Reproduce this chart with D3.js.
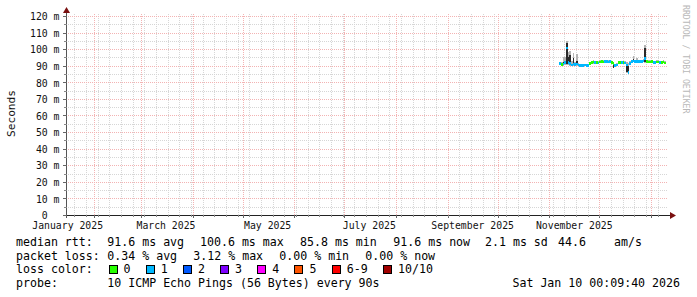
<!DOCTYPE html>
<html><head><meta charset="utf-8">
<script src="https://cdn.jsdelivr.net/npm/d3@7"></script>
<style>
html,body{margin:0;padding:0;background:#fff;}
svg{display:block;}
text{font-family:"DejaVu Sans Mono",monospace;white-space:pre;}
</style></head><body>
<svg id="c" width="697" height="297"></svg>
<script>
// ---- data ----
const startTime = "2025-01-15T00:09:40Z";
const endTime = "2026-01-10T00:09:40Z";
const firstDay = "2025-11-07T00:00:00Z";
const lastDay = "2026-01-10T00:00:00Z";

const median = [91.2,90.6,91.0,91.8,100.6,92.0,91.5,90.5,91.0,90.6,
  91.0,90.5,90.3,90.2,90.3,90.4,90.3,90.2,91.3,92.0,
  92.2,91.8,92.0,91.6,92.3,92.4,92.2,92.5,92.6,92.3,
  92.4,92.0,91.5,90.0,90.5,91.8,92.0,91.8,92.0,91.6,
  90.5,85.8,91.5,92.5,92.8,92.6,92.5,92.7,92.6,92.5,
  92.8,94.5,92.5,92.3,92.2,92.4,92.0,92.1,92.3,92.2,
  92.0,92.1,92.3,91.6];
const loss = [1,0,1,1,1,1,1,1,1,1, 1,1,1,1,1,1,1,1,0,0, 0,1,0,1,0,0,0,1,1,1,
  1,0,0,1,1,0,0,1,0,1, 1,1,1,1,1,1,1,1,1,1, 1,1,0,0,0,0,1,1,0,0, 1,0,0,0];
const smokeMax = [92.5,92.0,95.5,95.0,105.2,98.0,98.7,93.0,97.7,92.0,
  97.0,91.5,91.2,91.0,91.2,91.3,91.1,91.0,92.3,93.0,
  93.2,92.8,93.0,92.6,93.3,93.4,93.2,93.5,93.6,93.3,
  93.4,93.0,92.5,91.0,91.5,92.8,93.0,92.8,93.0,92.6,
  92.0,91.5,93.0,93.5,95.7,93.6,94.7,93.7,93.6,93.5,
  93.8,102.7,93.5,93.3,93.2,93.4,93.0,93.1,93.3,93.2,
  93.0,93.1,93.3,92.6];
const smokeMin = [90.2,89.8,90.0,90.5,90.5,90.2,90.0,89.8,90.0,89.8,
  90.0,89.8,89.5,89.4,89.5,89.6,89.5,89.4,90.5,91.0,
  91.2,91.0,91.2,90.8,91.5,91.6,91.4,91.7,91.8,91.5,
  91.6,91.2,88.7,89.2,89.7,91.0,91.2,91.0,91.2,90.8,
  85.6,85.0,90.7,91.7,92.0,91.8,91.7,91.9,91.8,91.7,
  92.0,91.5,91.7,91.5,91.4,91.6,91.2,91.3,91.5,91.4,
  91.2,91.3,91.5,90.8];
const coreMax = [91.8,91.2,92.5,93.0,104.0,95.0,96.3,91.3,94.7,91.2,
  93.0,91.0,90.8,90.7,90.8,90.9,90.8,90.7,91.8,92.5,
  92.7,92.3,92.5,92.1,92.8,92.9,92.7,93.0,93.1,92.8,
  92.9,92.5,91.8,90.5,91.0,92.3,92.5,92.3,92.5,92.1,
  91.2,90.0,92.0,93.0,94.0,93.1,93.5,93.2,93.1,93.0,
  93.3,100.7,93.0,92.8,92.7,92.9,92.5,92.6,92.8,92.7,
  92.5,92.6,92.8,92.1];
const coreMin = [90.7,90.1,90.5,91.3,91.0,91.0,91.0,90.0,90.5,90.1,
  90.5,90.0,89.8,89.7,89.8,89.9,89.8,89.7,90.8,91.5,
  91.7,91.3,91.5,91.1,91.8,91.9,91.7,92.0,92.1,91.8,
  91.9,91.5,88.9,89.5,90.0,91.3,91.5,91.3,91.5,91.1,
  86.5,85.6,91.0,92.0,92.3,92.1,92.0,92.2,92.1,92.0,
  92.3,92.0,92.0,91.8,91.7,91.9,91.5,91.6,91.8,91.7,
  91.5,91.6,91.8,91.1];

const yTicks = [0,10,20,30,40,50,60,70,80,90,100,110,120];
const yTickLabels = ["0","10 m","20 m","30 m","40 m","50 m","60 m","70 m","80 m","90 m","100 m","110 m","120 m"];
const xTickDates = ["2025-01-01","2025-03-01","2025-05-01","2025-07-01","2025-09-01","2025-11-01"];
const xTickLabels = ["January 2025","March 2025","May 2025","July 2025","September 2025","November 2025"];

const lossLabels = ["0","1","2","3","4","5","6-9","10/10"];
const lossColors = ["#26ff00","#00b8ff","#0059ff","#7e00ff","#ff00ff","#ff5500","#ff0000","#a00000"];

const rttParts = ["median rtt:","91.6 ms avg","100.6 ms max","85.8 ms min","91.6 ms now","2.1 ms sd","44.6","am/s"];
const lossParts = ["packet loss:","0.34 % avg","3.12 % max","0.00 % min","0.00 % now"];
const lossColorLabel = "loss color:";
const probeLabel = "probe:";
const probeText = "10 ICMP Echo Pings (56 Bytes) every 90s";
const stampText = "Sat Jan 10 00:09:40 2026";
const yTitle = "Seconds";
const watermark = "RRDTOOL / TOBI OETIKER";

// ---- drawing ----
const svg = d3.select("#c");
const X0 = 66, X1 = 666, Y0 = 215, Y1 = 15;
const x = d3.scaleUtc().domain([new Date(startTime), new Date(endTime)]).range([X0, X1]);
const y = d3.scaleLinear().domain([0, 120.6]).range([Y0, Y1]);
const px = v => Math.round(v) + 0.5;

svg.append("rect").attr("width",697).attr("height",297).attr("fill","#fff");

const MINOR = "#d6d6d6", MAJOR = "#f3b3b3";
const grid = svg.append("g").attr("stroke-width",1).attr("stroke-dasharray","1,1").attr("shape-rendering","crispEdges");
d3.range(5, 120, 10).forEach(v => {
  grid.append("line").attr("x1",X0).attr("x2",X1+1).attr("y1",px(y(v))).attr("y2",px(y(v))).attr("stroke",MINOR);
});
const weeks = d3.utcMonday.range(new Date(startTime), new Date(endTime));
weeks.forEach(d => {
  grid.append("line").attr("x1",px(x(d))).attr("x2",px(x(d))).attr("y1",Y1-1).attr("y2",Y0).attr("stroke",MINOR);
});
const months = d3.utcMonth.range(new Date(startTime), new Date(endTime));
months.forEach(d => {
  grid.append("line").attr("x1",px(x(d))).attr("x2",px(x(d))).attr("y1",Y1-1).attr("y2",Y0).attr("stroke",MAJOR);
});
yTicks.filter(v => v > 0).forEach(v => {
  grid.append("line").attr("x1",X0).attr("x2",X1+1).attr("y1",px(y(v))).attr("y2",px(y(v))).attr("stroke",MAJOR);
});

// data
const days = d3.utcDay.range(new Date(firstDay), new Date(lastDay));
const dataG = svg.append("g").attr("shape-rendering","crispEdges");
function band(lo, hi, color) {
  dataG.selectAll(null).data(days).enter().append("rect")
    .attr("x", d => x(d))
    .attr("width", d => x(d3.utcDay.offset(d,1)) - x(d))
    .attr("y", (d,i) => y(hi[i]))
    .attr("height", (d,i) => Math.max(0, y(lo[i]) - y(hi[i])))
    .attr("fill", color);
}
band(smokeMin, smokeMax, "#b4b4b4");
band(coreMin, coreMax, "#2a2a2a");
dataG.selectAll(null).data(days).enter().append("rect")
  .attr("x", d => x(d))
  .attr("width", d => x(d3.utcDay.offset(d,1)) - x(d))
  .attr("y", (d,i) => y(median[i]) - 1.3)
  .attr("height", 2.6)
  .attr("fill", (d,i) => lossColors[loss[i]]);

// axes
const axG = svg.append("g").attr("shape-rendering","crispEdges");
axG.append("line").attr("x1",X0-3).attr("x2",X1+5).attr("y1",px(Y0)).attr("y2",px(Y0)).attr("stroke","#222");
axG.append("line").attr("x1",px(X0)).attr("x2",px(X0)).attr("y1",Y0+3).attr("y2",Y1-5).attr("stroke","#555");
yTicks.forEach(v => axG.append("line").attr("x1",X0-3).attr("x2",X0+1).attr("y1",px(y(v))).attr("y2",px(y(v))).attr("stroke","#666"));
d3.range(5,120,10).forEach(v => axG.append("line").attr("x1",X0-2).attr("x2",X0+1).attr("y1",px(y(v))).attr("y2",px(y(v))).attr("stroke","#888"));
months.forEach(d => axG.append("line").attr("x1",px(x(d))).attr("x2",px(x(d))).attr("y1",Y0).attr("y2",Y0+3).attr("stroke","#666"));
weeks.forEach(d => axG.append("line").attr("x1",px(x(d))).attr("x2",px(x(d))).attr("y1",Y0).attr("y2",Y0+2).attr("stroke","#888"));
svg.append("path").attr("d",`M${X0-3},${Y1-2} L${X0+0.5},${Y1-8} L${X0+4},${Y1-2} Z`).attr("fill","#7a1010");
svg.append("path").attr("d",`M${X1+4},${Y0-3} L${X1+10},${Y0+0.5} L${X1+4},${Y0+4} Z`).attr("fill","#7a1010");

// y labels
svg.append("g").selectAll("text").data(yTicks).enter().append("text")
  .attr("x",59.5).attr("y",v => y(v)+4.2).attr("text-anchor","end")
  .attr("font-size","9.8px").attr("fill","#111")
  .text((v,i) => yTickLabels[i].includes(" ") ? yTickLabels[i] : yTickLabels[i] + "  ");

// x labels (centred half a month after the tick, as rrdtool does)
svg.append("g").selectAll("text").data(xTickDates).enter().append("text")
  .attr("x", d => x(d3.utcDay.offset(new Date(d + "T00:00:00Z"), 15)))
  .attr("y", 229).attr("text-anchor","middle")
  .attr("font-size","9.8px").attr("fill","#111")
  .text((d,i) => xTickLabels[i]);

svg.append("text").attr("transform","translate(15,113.5) rotate(-90)").attr("text-anchor","middle")
  .attr("font-size","11.2px").attr("fill","#111").text(yTitle);

svg.append("text").attr("transform","translate(683,5) rotate(90)").attr("text-anchor","start")
  .attr("font-size","8.2px").attr("fill","#b8b8b8").text(watermark);

// legend
const FS = "11.6px";
const legend = svg.append("g").attr("font-size",FS).attr("fill","#000");
const rttX = [16, 107.3, 200, 300, 393.3, 485, 558, 614];
const lossX = [16, 107.3, 193.3, 279.3, 365.3];
rttParts.forEach((t,i) => legend.append("text").attr("x",rttX[i]).attr("y",245.7).text(t));
lossParts.forEach((t,i) => legend.append("text").attr("x",lossX[i]).attr("y",259.5).text(t));
legend.append("text").attr("x",16).attr("y",273.4).text(lossColorLabel);
let bx = 108.5;
lossLabels.forEach((l,i) => {
  legend.append("rect").attr("x",Math.round(bx)+0.5).attr("y",265.5).attr("width",8).attr("height",8)
    .attr("fill",lossColors[i]).attr("stroke","#000").attr("stroke-width",1);
  legend.append("text").attr("x",bx+15).attr("y",273.4).text(l);
  bx += 37.2 + 7.05*(l.length-1);
});
legend.append("text").attr("x",16).attr("y",287.2).text(probeLabel);
legend.append("text").attr("x",107.3).attr("y",287.2).text(probeText);
legend.append("text").attr("x",680).attr("y",287.2).attr("text-anchor","end").text(stampText);
</script>
</body></html>
